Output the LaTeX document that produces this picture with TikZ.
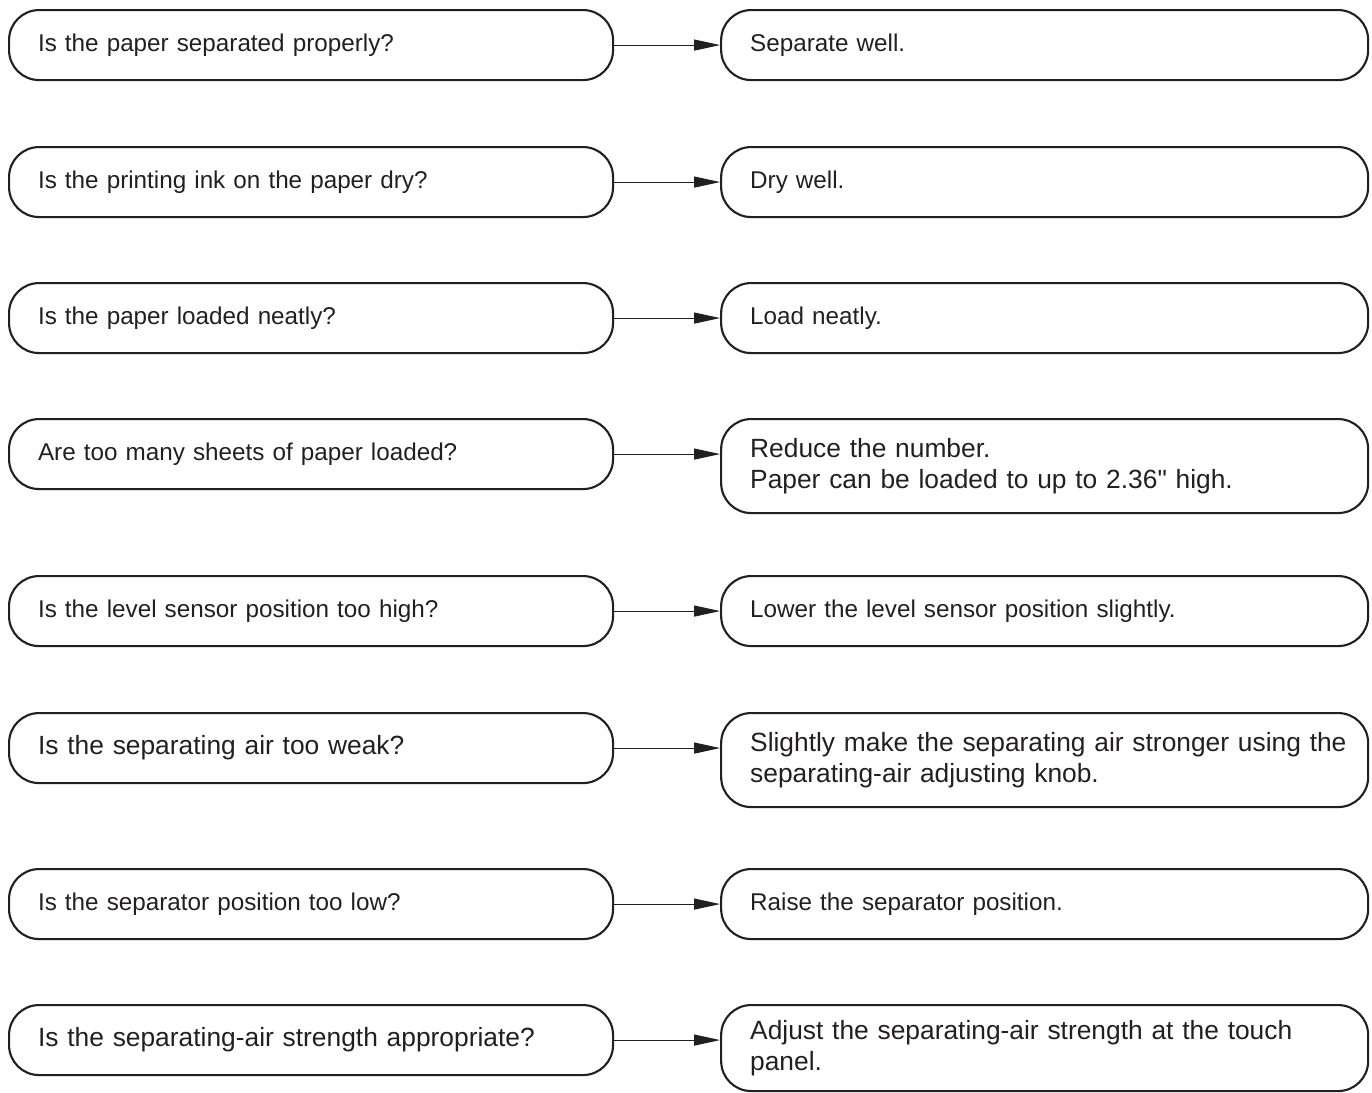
\documentclass[tikz,border=0pt]{standalone}
\usepackage{fontspec}
\setmainfont{Liberation Sans}
\usetikzlibrary{arrows.meta}
\definecolor{ink}{HTML}{231F20}

\begin{document}
\begin{tikzpicture}[font=\fontsize{13.8}{17.6}\selectfont, color=ink,
	question/.style={draw=ink, line width=1.2pt, rounded corners=0.6cm, anchor=north west,
		minimum height=1.4cm, text width=10.92cm, inner xsep=0.58cm, inner ysep=0pt, align=left},
	remedy/.style={question, text width=11.78cm},
	bigtext/.style={font=\fontsize{15}{17.6}\selectfont},
	arr/.style={line width=0.6pt, -{Triangle[length=0.52cm, width=0.22cm]}}]
	\useasboundingbox (0,0) rectangle (27.44,-21.84);
	
	% Fragen (links)
	\node[question] (q1) at (0.16,-0.18) {Is the paper separated properly?};
	\node[question] (q2) at (0.16,-2.92) {Is the printing ink on the paper dry?};
	\node[question] (q3) at (0.16,-5.64) {Is the paper loaded neatly?};
	\node[question] (q4) at (0.16,-8.36) {Are too many sheets of paper loaded?};
	\node[question] (q5) at (0.16,-11.50) {Is the level sensor position too high?};
	\node[question, bigtext] (q6) at (0.16,-14.24) {Is the separating air too weak?};
	\node[question] (q7) at (0.16,-17.36) {Is the separator position too low?};
	\node[question, bigtext] (q8) at (0.16,-20.08) {Is the separating-air strength appropriate?};
	
	% Abhilfe (rechts)
	\node[remedy] (a1) at ([xshift=2.12cm]q1.north east) {Separate well.};
	\node[remedy] (a2) at ([xshift=2.12cm]q2.north east) {Dry well.};
	\node[remedy] (a3) at ([xshift=2.12cm]q3.north east) {Load neatly.};
	\node[remedy, bigtext, minimum height=1.88cm] (a4) at ([xshift=2.12cm]q4.north east)
		{Reduce the number.\\Paper can be loaded to up to 2.36\textquotedbl{} high.};
	\node[remedy] (a5) at ([xshift=2.12cm]q5.north east) {Lower the level sensor position slightly.};
	\node[remedy, bigtext, minimum height=1.88cm] (a6) at ([xshift=2.12cm]q6.north east)
		{\makebox[11.78cm][l]{Slightly make the separating air stronger using the}\\separating-air adjusting knob.};
	\node[remedy] (a7) at ([xshift=2.12cm]q7.north east) {Raise the separator position.};
	\node[remedy, bigtext, minimum height=1.72cm] (a8) at ([xshift=2.12cm]q8.north east)
		{\makebox[11.74cm][s]{Adjust the separating-air strength at the touch}\\panel.};
	
	% Pfeile
	\draw[arr] (q1.east) -- (q1.east -| a1.west);
	\draw[arr] (q2.east) -- (q2.east -| a2.west);
	\draw[arr] (q3.east) -- (q3.east -| a3.west);
	\draw[arr] (q4.east) -- (q4.east -| a4.west);
	\draw[arr] (q5.east) -- (q5.east -| a5.west);
	\draw[arr] (q6.east) -- (q6.east -| a6.west);
	\draw[arr] (q7.east) -- (q7.east -| a7.west);
	\draw[arr] (q8.east) -- (q8.east -| a8.west);
\end{tikzpicture}
\end{document}
